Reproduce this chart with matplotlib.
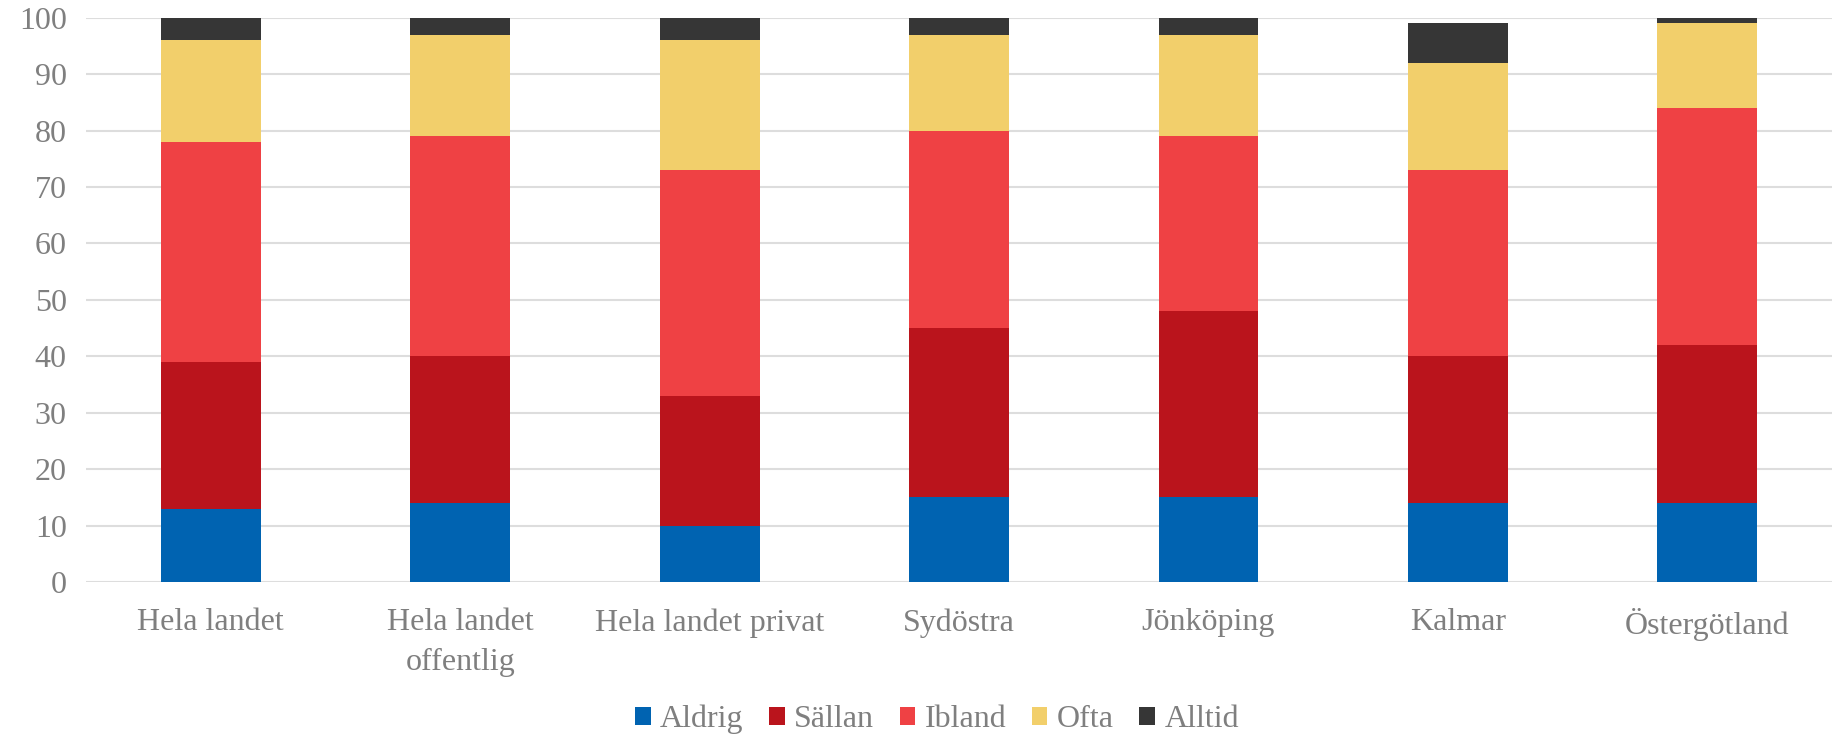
import matplotlib
matplotlib.use("Agg")
import matplotlib.pyplot as plt
import numpy as np

categories = ["Hela landet", "Hela landet\noffentlig", "Hela landet privat", "Sydöstra",
              "Jönköping", "Kalmar", "Östergötland"]
aldrig = [13, 14, 10, 15, 15, 14, 14]
sallan = [26, 26, 23, 30, 33, 26, 28]
ibland = [39, 39, 40, 35, 31, 33, 42]
ofta = [18, 18, 23, 17, 18, 19, 15]
alltid = [4, 3, 4, 3, 3, 7, 1]
series_names = ["Aldrig", "Sällan", "Ibland", "Ofta", "Alltid"]
colors = ["#0063B1", "#BA141C", "#EF4144", "#F2CF6B", "#363636"]
yticks = [0, 10, 20, 30, 40, 50, 60, 70, 80, 90, 100]

plt.rcParams['font.family'] = ['Liberation Serif', 'DejaVu Serif']

fig = plt.figure(figsize=(18.32, 7.34), dpi=100)
ax = fig.add_axes([0.047, 0.207, 0.953, 0.769])

x = np.arange(len(categories))
bottom = np.zeros(len(categories))
for name, vals, c in zip(series_names, [aldrig, sallan, ibland, ofta, alltid], colors):
    ax.bar(x, vals, width=0.4, bottom=bottom, color=c, label=name, zorder=3,
           edgecolor="none")
    bottom += np.array(vals)

ax.set_ylim(0, 100)
ax.set_xlim(-0.5, len(categories) - 0.5)
ax.set_yticks(yticks)
ax.set_yticklabels([str(t) for t in yticks])
ax.set_xticks(x)
ax.set_xticklabels(categories, linespacing=1.5)
ax.tick_params(axis='both', length=0, labelsize=23, colors="#7F7F7F")
ax.tick_params(axis='x', pad=19)
ax.tick_params(axis='y', pad=14)
ax.yaxis.grid(True, color="#DDDDDD", linewidth=1.5, zorder=0)
ax.set_axisbelow(True)
for s in ax.spines.values():
    s.set_visible(False)

leg = fig.legend(loc="center", bbox_to_anchor=(0.5115, 0.02), ncol=5, frameon=False,
                 fontsize=23, handlelength=0.48, handleheight=0.48, handletextpad=0.3,
                 columnspacing=0.8, borderpad=0)
for t in leg.get_texts():
    t.set_color("#7F7F7F")

fig.savefig("out.png", dpi=100)
